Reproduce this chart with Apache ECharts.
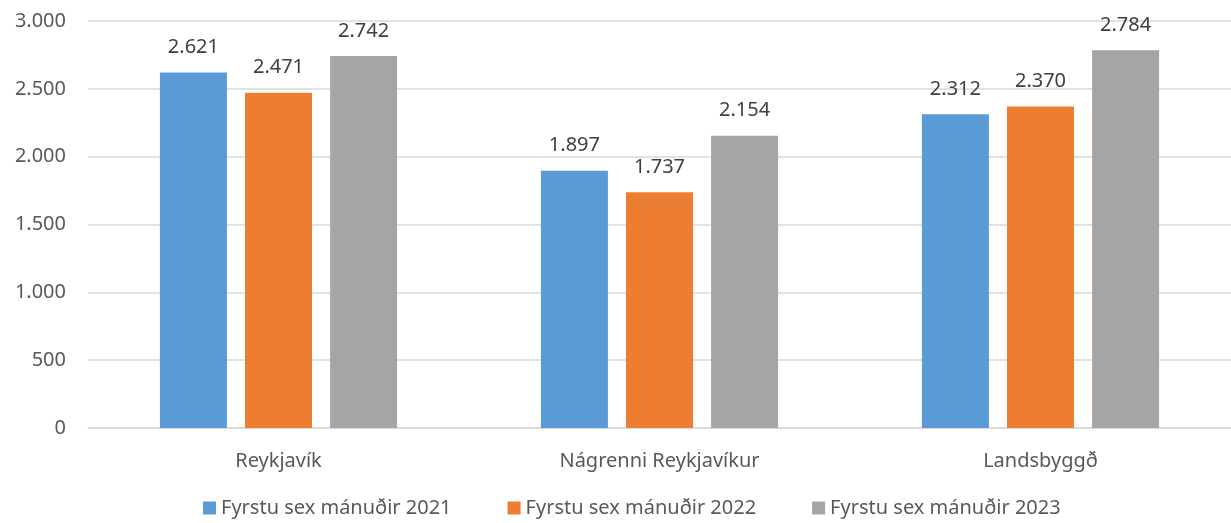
<!DOCTYPE html>
<html>
<head>
<meta charset="utf-8">
<script src="https://cdn.jsdelivr.net/npm/echarts@6/dist/echarts.min.js"></script>
<style>
  html, body { margin: 0; padding: 0; background: #fff; }
  #chart { width: 1231px; height: 523px; }
</style>
</head>
<body>
<div id="chart"></div>
<script>
// svæði
var categories = ['Reykjavík', 'Nágrenni Reykjavíkur', 'Landsbyggð'];
var seriesNames = ['Fyrstu sex mánuðir 2021', 'Fyrstu sex mánuðir 2022', 'Fyrstu sex mánuðir 2023'];
var values2021 = [2621, 1897, 2312];
var values2022 = [2471, 1737, 2370];
var values2023 = [2742, 2154, 2784];

var colors = ['#5B9BD5', '#ED7D31', '#A5A5A5'];
var font = 'Noto Sans';

var fmt = function(v) {
    return String(v).replace(/\B(?=(\d{3})+(?!\d))/g, '.');
};

var series = [values2021, values2022, values2023].map(function(vals, i) {
    return {
        name: seriesNames[i],
        type: 'bar',
        barWidth: 67,
        barGap: '27%',
        itemStyle: { color: colors[i] },
        label: {
            show: true,
            position: 'top',
            distance: 15,
            color: '#404040',
            fontFamily: font,
            fontSize: 20,
            formatter: function(p) { return fmt(p.value); }
        },
        data: vals
    };
});

var option = {
    backgroundColor: '#fff',
    animation: false,
    color: colors,
    grid: {
        left: 88,
        top: 21,
        width: 1150,
        height: 407,
        containLabel: false
    },
    legend: {
        bottom: 0,
        left: 198,
        itemWidth: 13,
        itemHeight: 13,
        itemGap: 56,
        icon: 'rect',
        textStyle: { color: '#595959', fontFamily: font, fontSize: 20 },
        data: seriesNames
    },
    xAxis: {
        type: 'category',
        data: categories,
        axisLine: { lineStyle: { color: '#d9d9d9', width: 1.5 } },
        axisTick: { show: false },
        axisLabel: { color: '#595959', fontFamily: font, fontSize: 20, margin: 23 }
    },
    yAxis: {
        type: 'value',
        min: 0,
        max: 3000,
        interval: 500,
        axisLine: { show: false },
        axisTick: { show: false },
        splitLine: { lineStyle: { color: '#d9d9d9', width: 1.5 } },
        axisLabel: {
            color: '#595959',
            fontFamily: font,
            fontSize: 20,
            margin: 22,
            formatter: fmt
        }
    },
    series: series
};

var myChart = echarts.init(document.getElementById('chart'));
myChart.setOption(option);
</script>
</body>
</html>
